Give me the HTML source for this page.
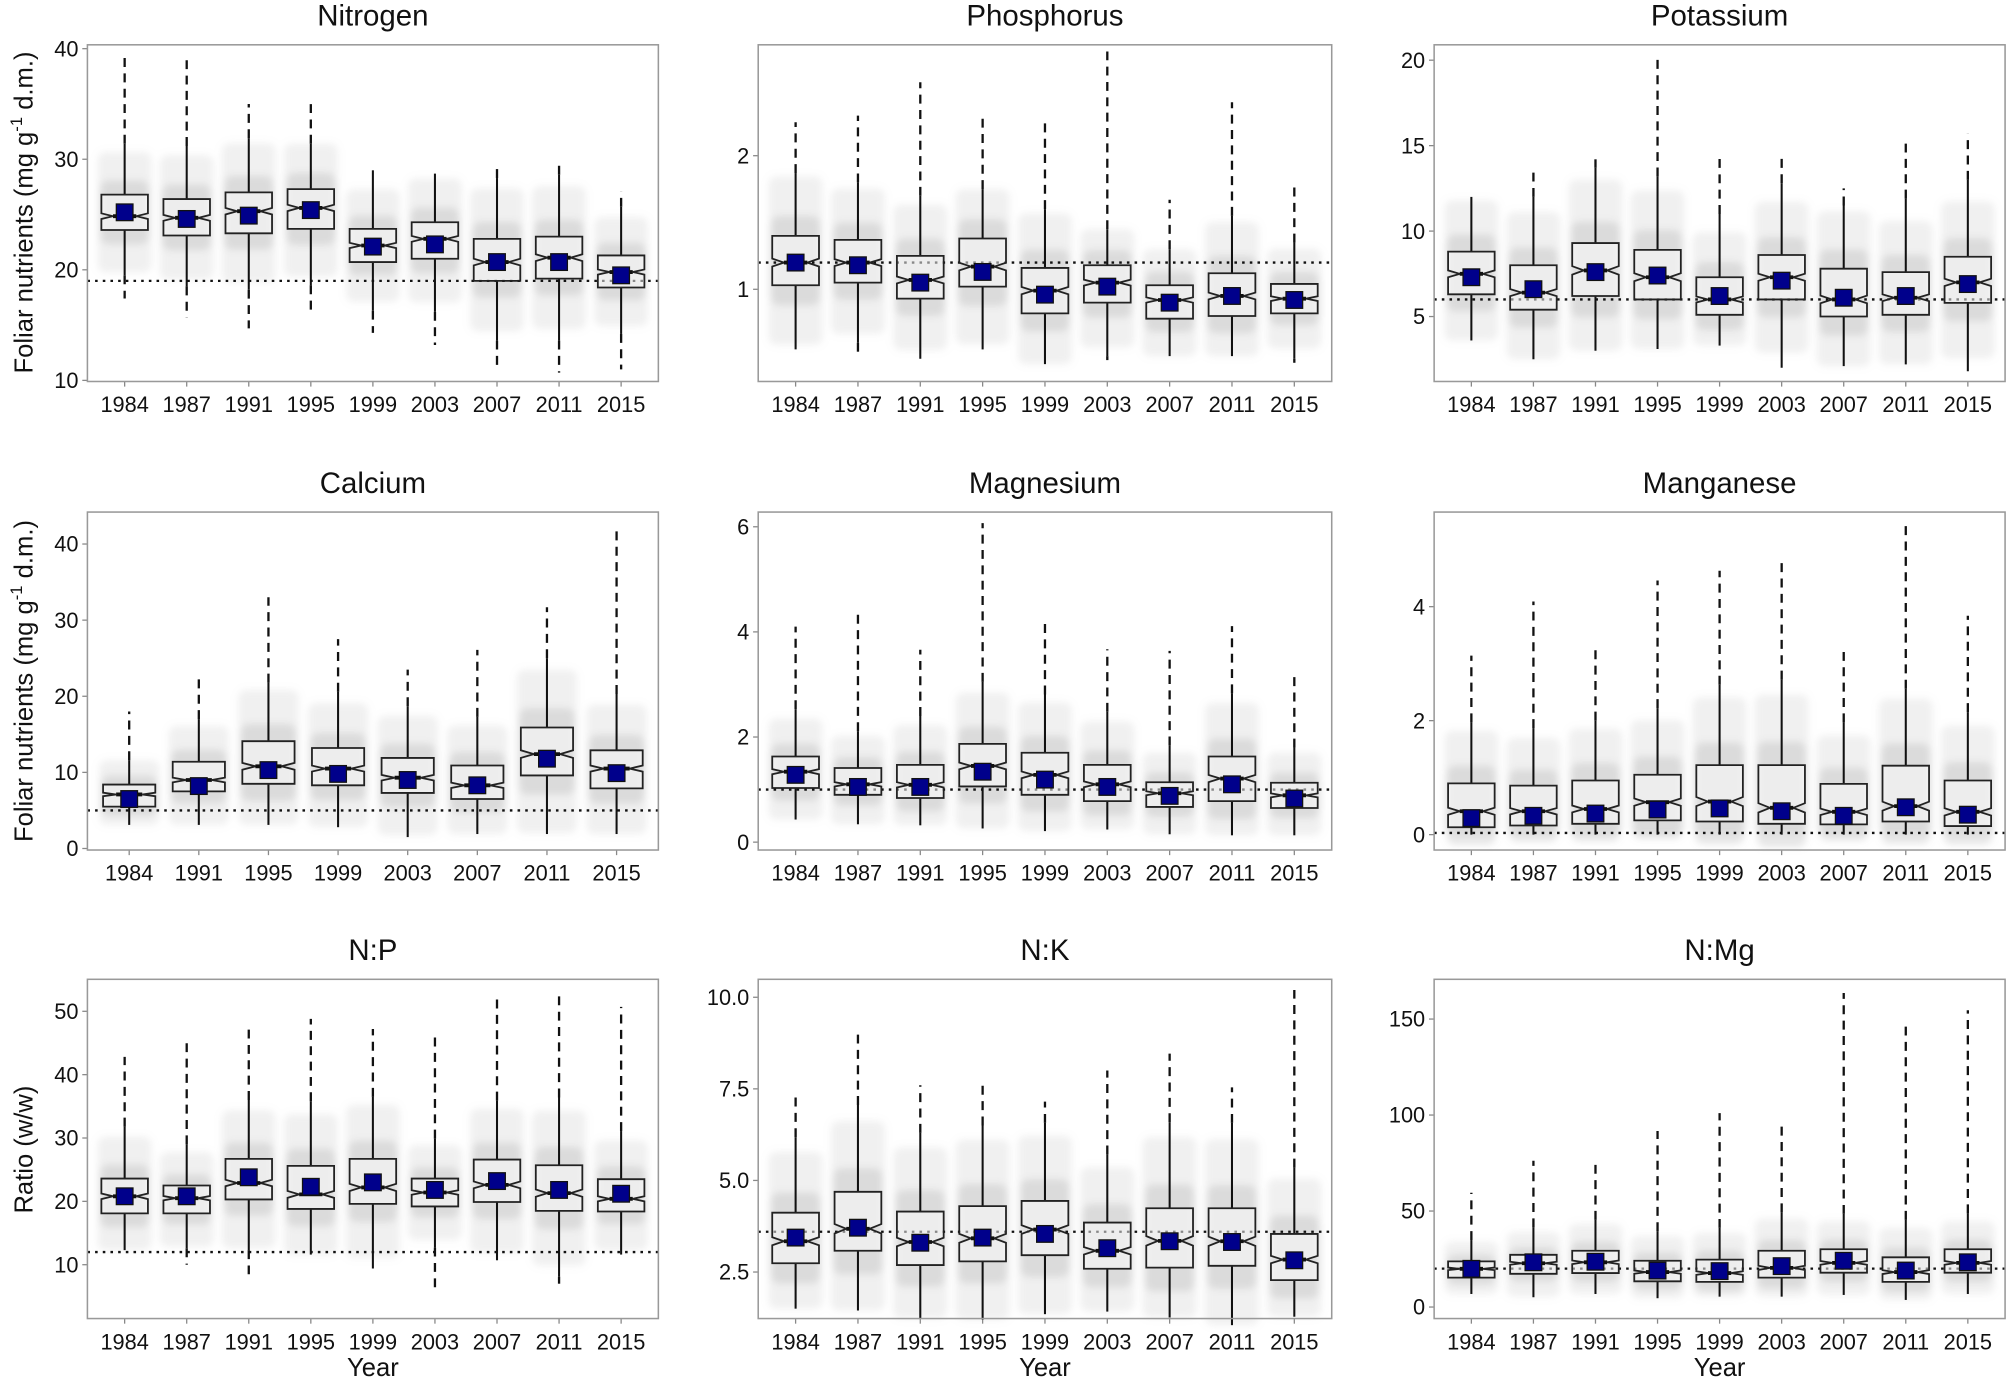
<!DOCTYPE html>
<html><head><meta charset="utf-8"><style>
html,body{margin:0;padding:0;background:#fff}
svg{display:block}
text{font-family:"Liberation Sans",sans-serif;fill:#111}
</style></head><body>
<svg id="chart" width="2008" height="1380" viewBox="0 0 1568 1078" xmlns="http://www.w3.org/2000/svg">
<defs><filter id="soft" x="-30%" y="-10%" width="160%" height="120%"><feGaussianBlur stdDeviation="3"/></filter></defs>
</svg>
<script>
// ---------- data ----------
const yearsA = ["1984","1987","1991","1995","1999","2003","2007","2011","2015"];
const yearsCa = ["1984","1991","1995","1999","2003","2007","2011","2015"];

const nitrogenQ1 = [23.6,23.1,23.3,23.7,20.7,21.0,19.0,19.2,18.4];
const nitrogenMed = [24.85,24.7,25.3,25.6,22.2,22.8,20.7,21.1,19.8];
const nitrogenQ3 = [26.8,26.4,27.0,27.3,23.7,24.3,22.8,23.0,21.3];
const nitrogenLo = [19.5,18.5,18.2,18.6,16.3,16.2,13.6,13.6,14.2];
const nitrogenHi = [31.4,31.2,31.9,31.4,29.0,28.7,28.3,28.6,25.7];
const nitrogenMean = [25.2,24.6,24.9,25.4,22.1,22.3,20.7,20.7,19.5];
const nitrogenOutMin = [17.4,15.7,14.7,16.4,14.3,13.2,11.1,10.7,11.0];
const nitrogenOutMax = [39.4,39.1,35.0,35.0,29.0,28.7,29.2,29.9,27.1];

const phosQ1 = [1.03,1.05,0.93,1.02,0.82,0.90,0.78,0.80,0.82];
const phosMed = [1.20,1.20,1.07,1.17,0.99,1.05,0.92,0.95,0.93];
const phosQ3 = [1.40,1.37,1.25,1.38,1.16,1.18,1.03,1.12,1.04];
const phosLo = [0.55,0.60,0.48,0.55,0.44,0.50,0.50,0.50,0.48];
const phosHi = [1.87,1.80,1.70,1.75,1.60,1.45,1.30,1.55,1.35];
const phosMean = [1.20,1.18,1.05,1.13,0.96,1.02,0.90,0.95,0.92];
const phosOutMin = [0.55,0.52,0.48,0.55,0.44,0.47,0.50,0.50,0.45];
const phosOutMax = [2.25,2.30,2.55,2.30,2.27,2.78,1.67,2.40,1.78];

const potQ1 = [6.3,5.4,6.2,6.0,5.1,6.0,5.0,5.1,5.8];
const potMed = [7.5,6.4,7.7,7.3,6.0,7.3,6.0,6.1,7.0];
const potQ3 = [8.8,8.0,9.3,8.9,7.3,8.6,7.8,7.6,8.5];
const potLo = [3.6,2.5,3.0,3.1,3.3,2.0,2.1,2.2,1.8];
const potHi = [12.0,12.0,13.7,13.2,11.0,12.8,11.5,11.9,13.0];
const potMean = [7.3,6.6,7.6,7.4,6.2,7.1,6.1,6.2,6.9];
const potOutMin = [3.6,2.5,3.0,3.1,3.3,2.0,2.1,2.2,1.8];
const potOutMax = [12.0,13.6,14.2,20.2,14.3,14.6,12.5,15.3,15.7];

const calQ1 = [5.5,7.5,8.5,8.3,7.3,6.5,9.6,7.9];
const calMed = [7.1,9.0,10.8,10.5,9.3,8.3,12.4,10.5];
const calQ3 = [8.4,11.4,14.1,13.2,11.9,10.9,15.9,12.9];
const calLo = [3.1,3.1,3.1,2.8,1.5,1.9,1.9,1.9];
const calHi = [11.6,17.0,21.8,20.6,18.7,17.3,25.0,20.3];
const calMean = [6.5,8.2,10.3,9.8,9.0,8.3,11.8,9.9];
const calOutMin = [3.1,3.1,3.1,2.8,1.5,1.9,1.9,1.9];
const calOutMax = [18.0,22.6,33.0,27.5,23.5,26.1,31.7,42.4];

const magQ1 = [1.03,0.90,0.84,1.06,0.90,0.78,0.67,0.78,0.65];
const magMed = [1.34,1.10,1.09,1.45,1.28,1.10,0.93,1.21,0.89];
const magQ3 = [1.63,1.41,1.47,1.87,1.70,1.47,1.14,1.63,1.13];
const magLo = [0.43,0.34,0.32,0.26,0.21,0.24,0.15,0.13,0.13];
const magHi = [2.53,2.11,2.40,3.05,2.81,2.48,1.84,2.83,1.80];
const magMean = [1.28,1.05,1.05,1.34,1.19,1.05,0.88,1.10,0.83];
const magOutMin = [0.43,0.34,0.32,0.26,0.21,0.24,0.15,0.13,0.13];
const magOutMax = [4.10,4.41,3.66,6.07,4.21,3.67,3.64,4.11,3.21];

const manQ1 = [0.13,0.16,0.19,0.25,0.23,0.19,0.18,0.23,0.15];
const manMed = [0.41,0.41,0.45,0.57,0.58,0.47,0.40,0.50,0.40];
const manQ3 = [0.90,0.86,0.95,1.05,1.22,1.22,0.89,1.21,0.95];
const manLo = [0,0,0,0,0,0,0,0,0];
const manHi = [1.97,1.87,2.00,2.22,2.63,2.72,1.97,2.56,2.15];
const manMean = [0.29,0.33,0.37,0.44,0.46,0.41,0.33,0.48,0.35];
const manOutMin = [0,0,0,0,0,0,0,0,0];
const manOutMax = [3.14,4.09,3.26,4.46,4.63,4.85,3.26,5.46,3.84];

const npQ1 = [18.1,18.1,20.3,18.8,19.6,19.2,19.9,18.5,18.4];
const npMed = [20.8,20.5,22.9,21.1,22.2,21.4,22.6,21.3,20.4];
const npQ3 = [23.6,22.5,26.7,25.6,26.7,23.6,26.6,25.7,23.5];
const npLo = [12.3,12.6,12.3,11.6,9.4,12.7,10.7,8.1,11.6];
const npHi = [31.8,29.0,36.0,35.8,36.5,29.9,35.9,36.4,31.1];
const npMean = [20.8,20.8,23.8,22.3,23.0,21.8,23.2,21.8,21.2];
const npOutMin = [12.3,10.0,8.5,11.6,9.4,5.6,10.7,7.0,11.6];
const npOutMax = [42.8,45.5,47.6,48.8,47.2,46.0,51.9,53.1,50.7];

const nkQ1 = [2.74,3.08,2.69,2.79,2.96,2.59,2.62,2.67,2.28];
const nkMed = [3.34,3.68,3.32,3.42,3.66,3.08,3.35,3.34,2.84];
const nkQ3 = [4.12,4.69,4.15,4.30,4.44,3.85,4.24,4.24,3.54];
const nkLo = [1.50,1.45,1.23,1.20,1.35,1.42,1.26,1.05,1.28];
const nkHi = [6.18,7.06,6.30,6.50,6.57,5.71,6.59,6.57,5.35];
const nkMean = [3.44,3.71,3.30,3.44,3.54,3.15,3.34,3.32,2.82];
const nkOutMin = [1.50,1.45,1.23,1.20,1.35,1.42,1.26,1.05,1.28];
const nkOutMax = [7.34,9.00,7.60,7.64,7.15,8.00,8.46,7.54,10.2];

const nmgQ1 = [15.3,17.3,17.7,13.4,13.1,15.3,17.9,13.1,17.9];
const nmgMed = [19.9,22.8,23.3,18.2,17.7,20.4,23.0,18.2,23.0];
const nmgQ3 = [23.8,27.2,29.3,24.1,24.7,29.3,30.1,25.9,30.1];
const nmgLo = [6.8,5.1,6.8,4.6,5.4,5.4,6.3,3.7,6.8];
const nmgHi = [34.9,41.5,45.4,39.5,41.2,49.3,48.5,45.4,48.8];
const nmgMean = [19.9,23.3,23.6,19.0,18.7,21.3,24.1,19.0,23.3];
const nmgOutMin = [6.8,5.1,6.8,4.6,5.4,5.4,6.3,3.7,6.8];
const nmgOutMax = [59.5,76.2,76.4,91.7,101,94.4,163.6,146.6,154.6];

const ticksN = [10,20,30,40], ticksP = [1,2], ticksK = [5,10,15,20], ticksCa = [0,10,20,30,40];
const ticksMg = [0,2,4,6], ticksMn = [0,2,4], ticksNP = [10,20,30,40,50];
const ticksNK = [2.5,5,7.5,10], tickLabelsNK = ["2.5","5.0","7.5","10.0"], ticksNMg = [0,50,100,150];
const refValues = [19,1.2,6,5,1.0,0.03,12,3.6,20];

// ---------- layout ----------
const svg = document.getElementById('chart');
const NS = 'http://www.w3.org/2000/svg';
function mk(tag, attrs, parent){ const e=document.createElementNS(NS,tag); for(const k in attrs) e.setAttribute(k,attrs[k]); (parent||svg).appendChild(e); return e; }

const cols = [[68,514],[592,1040],[1120,1566]];
const rows = [[35,298],[400,664],[765,1030]];
const panels = [
 {key:'nitrogen',title:'Nitrogen',cats:yearsA,dom:[9.9,40.35],ticks:ticksN,q1:nitrogenQ1,med:nitrogenMed,q3:nitrogenQ3,lo:nitrogenLo,hi:nitrogenHi,mean:nitrogenMean,omin:nitrogenOutMin,omax:nitrogenOutMax},
 {key:'phosphorus',title:'Phosphorus',cats:yearsA,dom:[0.31,2.83],ticks:ticksP,q1:phosQ1,med:phosMed,q3:phosQ3,lo:phosLo,hi:phosHi,mean:phosMean,omin:phosOutMin,omax:phosOutMax},
 {key:'potassium',title:'Potassium',cats:yearsA,dom:[1.2,20.9],ticks:ticksK,q1:potQ1,med:potMed,q3:potQ3,lo:potLo,hi:potHi,mean:potMean,omin:potOutMin,omax:potOutMax},
 {key:'calcium',title:'Calcium',cats:yearsCa,dom:[-0.2,44.2],ticks:ticksCa,q1:calQ1,med:calMed,q3:calQ3,lo:calLo,hi:calHi,mean:calMean,omin:calOutMin,omax:calOutMax},
 {key:'magnesium',title:'Magnesium',cats:yearsA,dom:[-0.15,6.28],ticks:ticksMg,q1:magQ1,med:magMed,q3:magQ3,lo:magLo,hi:magHi,mean:magMean,omin:magOutMin,omax:magOutMax},
 {key:'manganese',title:'Manganese',cats:yearsA,dom:[-0.27,5.66],ticks:ticksMn,q1:manQ1,med:manMed,q3:manQ3,lo:manLo,hi:manHi,mean:manMean,omin:manOutMin,omax:manOutMax},
 {key:'n-p',title:'N:P',cats:yearsA,dom:[1.5,55.05],ticks:ticksNP,q1:npQ1,med:npMed,q3:npQ3,lo:npLo,hi:npHi,mean:npMean,omin:npOutMin,omax:npOutMax},
 {key:'n-k',title:'N:K',cats:yearsA,dom:[1.23,10.49],ticks:ticksNK,tickLabels:tickLabelsNK,q1:nkQ1,med:nkMed,q3:nkQ3,lo:nkLo,hi:nkHi,mean:nkMean,omin:nkOutMin,omax:nkOutMax},
 {key:'n-mg',title:'N:Mg',cats:yearsA,dom:[-6,170.7],ticks:ticksNMg,q1:nmgQ1,med:nmgMed,q3:nmgQ3,lo:nmgLo,hi:nmgHi,mean:nmgMean,omin:nmgOutMin,omax:nmgOutMax}
];

panels.forEach((p,pi)=>{
  const [x0,x1]=cols[pi%3], [y0,y1]=rows[Math.floor(pi/3)];
  const g = mk('g',{});
  
  
  const yS = v => y1 - (v-p.dom[0])/(p.dom[1]-p.dom[0])*(y1-y0);
  const n = p.cats.length, unit = (x1-x0)/(n-1+1.2);
  const xS = i => x0 + unit*(0.6+i);
  const bw = unit*0.75;

  const t = mk('text',{x:(x0+x1)/2,y:y0-15,'text-anchor':'middle','font-size':23},g);
  t.textContent = p.title;
  
  

  p.ticks.forEach((tv,ti)=>{
    const y=yS(tv);
    mk('line',{x1:x0-4,x2:x0,y1:y,y2:y,stroke:'#888','stroke-width':1},g);
    const tl = mk('text',{x:x0-7,y:y+6,'text-anchor':'end','font-size':17},g);
    tl.textContent = p.tickLabels ? p.tickLabels[ti] : String(tv);
    
    
  });
  p.cats.forEach((c,i)=>{
    const x=xS(i);
    mk('line',{x1:x,x2:x,y1:y1,y2:y1+4,stroke:'#888','stroke-width':1},g);
    const xl = mk('text',{x:x,y:y1+24,'text-anchor':'middle','font-size':17},g);
    xl.textContent = c;
    
    
  });

  // jitter clouds (soft)
  const cloudG = mk('g',{filter:'url(#soft)'},g);
  
  
  p.cats.forEach((c,i)=>{
    const x=xS(i), cw=bw*1.15;
    const iqr=p.q3[i]-p.q1[i];
    const top=Math.min(p.hi[i], p.q3[i]+iqr*1.2), bot=Math.max(p.lo[i], p.q1[i]-iqr*1.2);
    mk('rect',{x:x-cw/2,y:yS(top),width:cw,height:yS(bot)-yS(top),rx:6,fill:'#aaa','fill-opacity':0.18},cloudG);
    mk('rect',{x:x-cw/2+2,y:yS(p.q3[i]+iqr*0.4),width:cw-4,height:yS(p.q1[i]-iqr*0.4)-yS(p.q3[i]+iqr*0.4),rx:6,fill:'#888','fill-opacity':0.2},cloudG);
  });

  const ry=yS(refValues[pi]);
  const rl = mk('line',{x1:x0,x2:x1,y1:ry,y2:ry,stroke:'#111','stroke-width':1.8,'stroke-dasharray':'2 4'},g);
  
  

  p.cats.forEach((c,i)=>{
    const x=xS(i), hw=bw/2;
    const iqr=p.q3[i]-p.q1[i], nt=iqr*0.08;
    const bg = mk('g',{},g);
    
    
    if(p.omax[i]>p.hi[i]) mk('line',{x1:x,x2:x,y1:yS(p.hi[i]),y2:yS(p.omax[i]),stroke:'#111','stroke-width':1.8,'stroke-dasharray':'7 5'},bg);
    if(p.omin[i]<p.lo[i]) mk('line',{x1:x,x2:x,y1:yS(p.lo[i]),y2:yS(p.omin[i]),stroke:'#111','stroke-width':1.8,'stroke-dasharray':'7 5'},bg);
    mk('line',{x1:x,x2:x,y1:yS(p.hi[i]),y2:yS(p.q3[i]),stroke:'#111','stroke-width':1.6},bg);
    mk('line',{x1:x,x2:x,y1:yS(p.q1[i]),y2:yS(p.lo[i]),stroke:'#111','stroke-width':1.6},bg);
    const pts=[[x-hw,yS(p.q3[i])],[x+hw,yS(p.q3[i])],[x+hw,yS(p.med[i]+nt)],[x+hw/2,yS(p.med[i])],[x+hw,yS(p.med[i]-nt)],[x+hw,yS(p.q1[i])],[x-hw,yS(p.q1[i])],[x-hw,yS(p.med[i]-nt)],[x-hw/2,yS(p.med[i])],[x-hw,yS(p.med[i]+nt)]];
    mk('polygon',{points:pts.map(q=>q.join(',')).join(' '),fill:'#fff','fill-opacity':0.5,stroke:'#222','stroke-width':1.4},bg);
    mk('line',{x1:x-hw/2,x2:x+hw/2,y1:yS(p.med[i]),y2:yS(p.med[i]),stroke:'#111','stroke-width':3},bg);
    const m = mk('rect',{x:x-6.5,y:yS(p.mean[i])-6.5,width:13,height:13,fill:'#00008B',stroke:'#111','stroke-width':1},bg);
    
    
  });

  const fr = mk('rect',{x:x0,y:y0,width:x1-x0,height:y1-y0,fill:'none',stroke:'#999','stroke-width':1.2},g);
  
  

  if(pi>=6){
    const yl = mk('text',{x:(x0+x1)/2,y:1075,'text-anchor':'middle','font-size':20},g);
    yl.textContent='Year';
    
    
  }
});

[[166,'foliar'],[532,'foliar'],[898,'ratio']].forEach(([cy,kind])=>{
  const t = mk('text',{x:0,y:0,'text-anchor':'middle','font-size':20,transform:'translate(25,'+cy+') rotate(-90)'});
  
  
  if(kind==='ratio'){ t.textContent='Ratio (w/w)'; }
  else {
    t.appendChild(document.createTextNode('Foliar nutrients (mg g'));
    const s=mk('tspan',{dy:-8,'font-size':13},t); s.textContent='-1';
    const s2=mk('tspan',{dy:8},t); s2.textContent=' d.m.)';
  }
});
</script>
</body></html>
